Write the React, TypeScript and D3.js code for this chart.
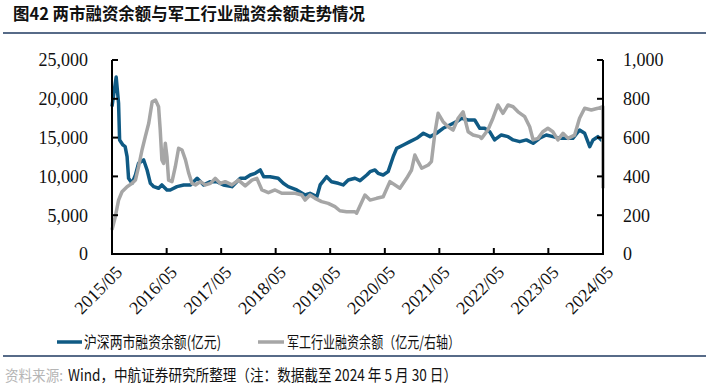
import * as d3 from "d3";

// 沪深两市融资余额（亿元，左轴）
const marketDates = [
  "2015-05-01", "2015-05-29", "2015-06-14", "2015-06-21", "2015-07-13", "2015-07-28",
  "2015-08-10", "2015-08-20", "2015-09-12", "2015-10-05", "2015-10-26", "2015-11-29",
  "2015-12-22", "2016-01-13", "2016-02-05", "2016-03-08", "2016-03-30", "2016-05-03",
  "2016-05-25", "2016-07-09", "2016-08-23", "2016-10-07", "2016-11-21", "2017-01-04",
  "2017-02-18", "2017-04-02", "2017-05-16", "2017-07-12", "2017-09-06", "2017-10-09",
  "2017-11-12", "2017-12-15", "2018-01-18", "2018-02-10", "2018-03-24", "2018-05-18",
  "2018-06-21", "2018-07-24", "2018-09-19", "2018-11-14", "2018-12-17", "2019-02-01",
  "2019-02-23", "2019-04-07", "2019-05-10", "2019-06-24", "2019-07-27", "2019-08-30",
  "2019-10-14", "2019-11-17", "2020-01-01", "2020-01-23", "2020-02-25", "2020-03-17",
  "2020-04-20", "2020-05-23", "2020-06-26", "2020-07-19", "2020-09-02", "2020-10-16",
  "2020-11-30", "2021-01-14", "2021-02-28", "2021-04-12", "2021-05-26", "2021-07-10",
  "2021-08-24", "2021-09-27", "2021-11-10", "2021-12-24", "2022-01-27", "2022-02-28",
  "2022-04-03", "2022-05-06", "2022-06-20", "2022-08-04", "2022-09-07", "2022-10-21",
  "2022-12-05", "2023-01-19", "2023-03-03", "2023-04-17", "2023-05-31", "2023-07-15",
  "2023-08-29", "2023-10-12", "2023-11-26", "2023-12-30", "2024-02-02", "2024-02-24",
  "2024-03-28", "2024-04-20", "2024-05-30",
];
const marketValues = [
  19000, 22800, 19400, 14700, 14050, 13830,
  12540, 9760, 9110, 10180, 11690, 12120,
  10830, 9110, 8680, 8470, 8900, 8250,
  8250, 8680, 8900, 8900, 9760, 8900,
  9320, 9320, 8900, 8680, 9760, 9760,
  10180, 10400, 10830, 9960, 9960, 9760,
  9110, 8680, 8250, 7600, 7820, 7390,
  8900, 9960, 9320, 9110, 8900, 9540,
  9760, 9450, 10180, 10610, 10830, 10400,
  10180, 10610, 12540, 13620, 14050, 14480,
  14910, 15560, 15120, 15560, 16200, 16630,
  17050, 17490, 17270, 17270, 16200, 16200,
  15770, 14700, 15340, 15120, 14700, 14480,
  14700, 14270, 14910, 15340, 15120, 14910,
  14910, 14910, 15980, 15560, 13830, 14700,
  15120, 14700, 14800,
];

// 军工行业融资余额（亿元，右轴）
const defenseDates = [
  "2015-05-01", "2015-05-23", "2015-06-14", "2015-07-07", "2015-08-10", "2015-09-12",
  "2015-10-05", "2015-10-26", "2015-11-18", "2015-12-10", "2016-01-02", "2016-01-25",
  "2016-02-16", "2016-03-08", "2016-03-19", "2016-03-30", "2016-04-11", "2016-04-22",
  "2016-05-03", "2016-05-14", "2016-06-06", "2016-06-28", "2016-07-20", "2016-08-12",
  "2016-09-04", "2016-09-26", "2016-10-18", "2016-11-10", "2016-12-13", "2017-01-16",
  "2017-02-18", "2017-03-22", "2017-04-25", "2017-05-28", "2017-07-12", "2017-08-25",
  "2017-10-09", "2017-11-23", "2017-12-26", "2018-01-29", "2018-03-13", "2018-04-27",
  "2018-06-11", "2018-07-24", "2018-09-09", "2018-10-23", "2018-11-14", "2018-12-17",
  "2019-01-20", "2019-03-05", "2019-04-18", "2019-06-02", "2019-07-05", "2019-08-19",
  "2019-10-14", "2019-10-25", "2019-12-20", "2020-01-23", "2020-03-07", "2020-04-20",
  "2020-06-04", "2020-08-10", "2020-09-24", "2020-10-27", "2020-11-18", "2020-12-10",
  "2021-01-03", "2021-02-16", "2021-03-09", "2021-04-01", "2021-04-23", "2021-05-26",
  "2021-06-29", "2021-08-01", "2021-09-04", "2021-10-07", "2021-11-10", "2021-12-13",
  "2022-01-27", "2022-02-08", "2022-03-22", "2022-04-25", "2022-05-28", "2022-07-01",
  "2022-08-04", "2022-09-07", "2022-10-10", "2022-11-24", "2022-12-27", "2023-01-19",
  "2023-02-21", "2023-03-25", "2023-04-28", "2023-05-31", "2023-07-04", "2023-08-07",
  "2023-09-10", "2023-10-24", "2023-11-26", "2023-12-30", "2024-02-13", "2024-03-28",
  "2024-04-30", "2024-05-30",
];
const defenseValues = [
  124, 192, 278, 321, 347, 364,
  381, 450, 536, 605, 674, 785,
  794, 759, 639, 485, 467, 571,
  502, 381, 373, 450, 545, 536,
  485, 416, 364, 356, 373, 356,
  364, 390, 364, 373, 356, 381,
  351, 381, 390, 330, 316, 330,
  313, 313, 313, 304, 278, 304,
  287, 270, 261, 244, 223, 218,
  218, 210, 304, 278, 287, 295,
  373, 339, 390, 433, 510, 476,
  442, 459, 476, 622, 725, 682,
  656, 639, 700, 733, 630, 613,
  605, 596, 639, 700, 768, 725,
  768, 759, 733, 708, 656, 588,
  596, 630, 648, 630, 588, 622,
  596, 613, 700, 751, 742, 751,
  759, 339,
];

const xTickLabels = [
  "2015/05", "2016/05", "2017/05", "2018/05", "2019/05",
  "2020/05", "2021/05", "2022/05", "2023/05", "2024/05",
];
const leftTicks = [0, 5000, 10000, 15000, 20000, 25000];
const rightTicks = [0, 200, 400, 600, 800, 1000];

const parse = d3.timeParse("%Y-%m-%d");
const serif = "'Liberation Serif', 'Times New Roman', serif";
const cjk = "'Noto Sans CJK SC', sans-serif";
const blue = "#0f5a84";
const grey = "#a6a6a6";
const navy = "#1f3a60";

export default function App() {
  // month-based axis like the source: May 2024 values collapse onto the right edge
  const x = d3
    .scaleTime()
    .domain([parse("2015-05-01")!, parse("2024-05-01")!])
    .range([112, 603])
    .clamp(true);
  const yL = d3.scaleLinear().domain([0, 25000]).range([254, 60]);
  const yR = d3.scaleLinear().domain([0, 1000]).range([254, 60]);
  const fmt = d3.format(",");

  const market = marketDates.map((d, i) => ({ date: parse(d)!, value: marketValues[i] }));
  const defense = defenseDates.map((d, i) => ({ date: parse(d)!, value: defenseValues[i] }));

  const lineL = d3
    .line<{ date: Date; value: number }>()
    .x((d) => x(d.date))
    .y((d) => yL(d.value));
  const lineR = d3
    .line<{ date: Date; value: number }>()
    .x((d) => x(d.date))
    .y((d) => yR(d.value));

  const [x0, x1] = x.range();
  const [yb, yt] = yL.range();

  return (
    <svg
      width={709}
      height={388}
      style={{ position: "absolute", left: 0, top: 0, background: "#fff" }}
    >
      {/* title */}
      <text
        x={13}
        y={20}
        fontFamily={cjk}
        fontWeight={700}
        fontSize={16.5}
        textLength={352}
        lengthAdjust="spacingAndGlyphs"
        fill="#111"
      >
        图42  两市融资余额与军工行业融资余额走势情况
      </text>
      <line x1={3} x2={706} y1={33} y2={33} stroke={navy} strokeWidth={1.5} />

      {/* series */}
      <path d={lineL(market) ?? ""} fill="none" stroke={blue} strokeWidth={3.5} strokeLinejoin="round" />
      <path d={lineR(defense) ?? ""} fill="none" stroke={grey} strokeWidth={3.5} strokeLinejoin="round" />

      {/* axes */}
      <g stroke="#000" strokeWidth={2} fill="none">
        <path d={`M${x0},${yt}V${yb}H${x1}V${yt}`} />
        {leftTicks.map((t) => (
          <line key={"l" + t} x1={x0} x2={x0 + 6} y1={yL(t)} y2={yL(t)} />
        ))}
        {rightTicks.map((t) => (
          <line key={"r" + t} x1={x1 - 6} x2={x1} y1={yR(t)} y2={yR(t)} />
        ))}
        {xTickLabels.map((l) => {
          const px = x(parse(l.replace("/", "-") + "-01")!);
          return <line key={"x" + l} x1={px} x2={px} y1={yb} y2={yb - 6} />;
        })}
      </g>

      <g fontFamily={serif} fontSize={18} fill="#111">
        {leftTicks.map((t) => (
          <text key={"lt" + t} x={88} y={yL(t)} dy="0.35em" textAnchor="end">
            {fmt(t)}
          </text>
        ))}
        {rightTicks.map((t) => (
          <text key={"rt" + t} x={623} y={yR(t)} dy="0.35em" textAnchor="start">
            {fmt(t)}
          </text>
        ))}
        {xTickLabels.map((l) => {
          const px = x(parse(l.replace("/", "-") + "-01")!);
          return (
            <text
              key={"xt" + l}
              transform={`translate(${px + 7},${yb + 15}) rotate(-45)`}
              textAnchor="end"
              dy="0.35em"
            >
              {l}
            </text>
          );
        })}
      </g>

      {/* legend */}
      <line x1={57} x2={82} y1={342} y2={342} stroke={blue} strokeWidth={3.5} />
      <text
        x={84}
        y={348}
        fontFamily={cjk}
        fontSize={16}
        textLength={137}
        lengthAdjust="spacingAndGlyphs"
        fill="#111"
      >
        沪深两市融资余额(亿元)
      </text>
      <line x1={258} x2={284} y1={342} y2={342} stroke={grey} strokeWidth={3.5} />
      <text
        x={287}
        y={348}
        fontFamily={cjk}
        fontSize={16}
        textLength={173}
        lengthAdjust="spacingAndGlyphs"
        fill="#111"
      >
        军工行业融资余额（亿元/右轴）
      </text>
      <line x1={3} x2={706} y1={356} y2={356} stroke={navy} strokeWidth={1.5} />

      {/* source */}
      <text
        x={5}
        y={381}
        fontFamily={cjk}
        fontSize={14.5}
        textLength={58}
        lengthAdjust="spacingAndGlyphs"
        fill="#b5b5b5"
      >
        资料来源:
      </text>
      <text
        x={68}
        y={381}
        fontFamily={cjk}
        fontSize={16}
        textLength={389}
        lengthAdjust="spacingAndGlyphs"
        fill="#111"
      >
        Wind，中航证券研究所整理（注：数据截至 2024 年 5 月 30 日）
      </text>
    </svg>
  );
}
